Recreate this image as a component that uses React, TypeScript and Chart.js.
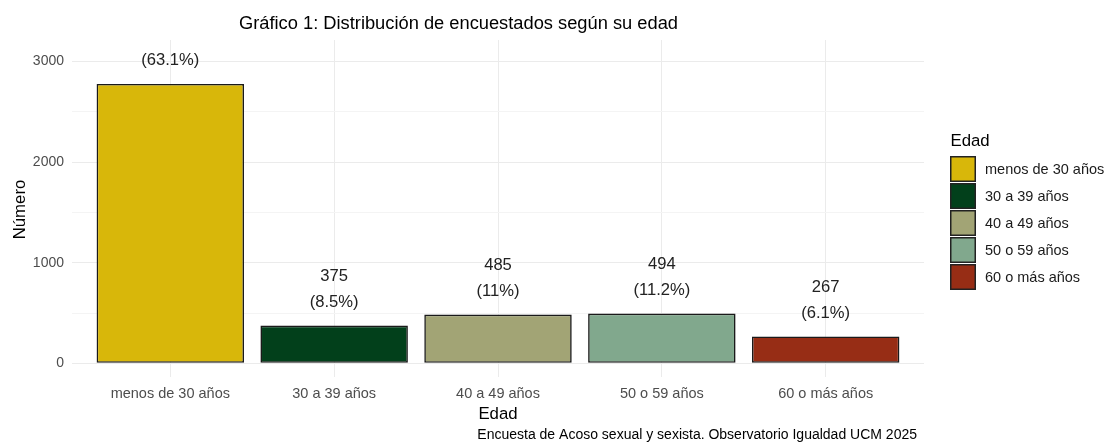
import React, { useEffect, useRef } from "react";
import { Chart, registerables } from "chart.js";

Chart.register(...registerables);

const categories = ["menos de 30 años", "30 a 39 años", "40 a 49 años", "50 o 59 años", "60 o más años"];
const counts = [2777, 375, 485, 494, 267];
const colors = ["#D8B70A", "#02401B", "#A2A475", "#81A88D", "#972D15"];
const yTicks = [0, 500, 1000, 1500, 2000, 2500, 3000];
const titleText = "Gráfico 1: Distribución de encuestados según su edad";
const xTitle = "Edad";
const yTitle = "Número";
const legendTitle = "Edad";
const captionText = "Encuesta de Acoso sexual y sexista. Observatorio Igualdad UCM 2025";

const FONT = "'Liberation Sans', Arial, sans-serif";

function fmtPct(v: number, total: number): string {
  const p = Math.round((v / total) * 1000) / 10;
  return "(" + String(p) + "%)";
}

export default function App() {
  const ref = useRef<HTMLCanvasElement | null>(null);

  useEffect(() => {
    document.body.style.margin = "0";
    const canvas = ref.current;
    if (!canvas) return;
    const total = counts.reduce((a, b) => a + b, 0);

    const decor = {
      id: "decor",
      afterDatasetsDraw(chart: any) {
        const ctx = chart.ctx;
        const area = chart.chartArea;
        const meta = chart.getDatasetMeta(0);
        ctx.save();
        ctx.beginPath();
        ctx.rect(area.left, area.top, area.right - area.left, area.bottom - area.top);
        ctx.clip();
        ctx.fillStyle = "#222";
        ctx.textAlign = "center";
        ctx.textBaseline = "alphabetic";
        ctx.font = "16.6px " + FONT;
        meta.data.forEach((bar: any, i: number) => {
          ctx.fillText(String(counts[i]), bar.x, bar.y - 44.3);
          ctx.fillText(fmtPct(counts[i], total), bar.x, bar.y - 18.8);
        });
        ctx.restore();
      },
      afterDraw(chart: any) {
        const ctx = chart.ctx;
        const area = chart.chartArea;
        ctx.save();
        ctx.textBaseline = "alphabetic";
        ctx.fillStyle = "#000";
        ctx.textAlign = "center";
        ctx.font = "18.3px " + FONT;
        ctx.fillText(titleText, 458.5, 28.5);
        ctx.font = "16.8px " + FONT;
        ctx.fillText(xTitle, (area.left + area.right) / 2, 418.8);
        ctx.save();
        ctx.translate(25, (area.top + area.bottom) / 2 + 1);
        ctx.rotate(-Math.PI / 2);
        ctx.textAlign = "center";
        ctx.fillText(yTitle, 0, 0);
        ctx.restore();
        ctx.textAlign = "right";
        ctx.font = "14px " + FONT;
        ctx.fillText(captionText, 917, 438.5);
        ctx.textAlign = "left";
        ctx.font = "16.8px " + FONT;
        ctx.fillText(legendTitle, 950.5, 146);
        ctx.font = "14.5px " + FONT;
        categories.forEach((c, i) => {
          const y = 156 + 27 * i;
          ctx.fillStyle = colors[i];
          ctx.fillRect(950, y, 26, 26);
          ctx.strokeStyle = "#222";
          ctx.lineWidth = 1.5;
          ctx.strokeRect(950.75, y + 0.75, 24.5, 24.5);
          ctx.fillStyle = "#1a1a1a";
          ctx.textBaseline = "middle";
          ctx.fillText(c, 985, y + 13.5);
        });
        ctx.restore();
      },
    };

    const chart = new Chart(canvas, {
      type: "bar",
      data: {
        datasets: [
          {
            data: counts.map((v, i) => ({ x: i + 1, y: v })),
            backgroundColor: colors,
            borderColor: "#1a1a1a",
            borderWidth: 1.6,
            borderSkipped: false,
            barPercentage: 0.9,
            categoryPercentage: 1,
          },
        ],
      },
      options: {
        animation: false,
        responsive: false,
        maintainAspectRatio: false,
        layout: { padding: { left: 0, top: 40, right: 183, bottom: 0 } },
        plugins: {
          legend: { display: false },
          title: { display: false },
          tooltip: { enabled: false },
        },
        scales: {
          x: {
            type: "linear",
            min: 0.4,
            max: 5.6,
            offset: false,
            afterBuildTicks: (scale: any) => {
              scale.ticks = categories.map((_, i) => ({ value: i + 1 }));
            },
            afterFit: (scale: any) => {
              scale.height = 66;
            },
            border: { display: false },
            grid: { color: "#ebebeb", lineWidth: 1, drawTicks: false, offset: false },
            ticks: {
              padding: 8,
              color: "#4d4d4d",
              font: { family: FONT, size: 14.5 },
              autoSkip: false,
              maxRotation: 0,
              callback: (v: any) => categories[Math.round(Number(v)) - 1] ?? "",
            },
          },
          y: {
            min: -136,
            max: 3214,
            afterBuildTicks: (scale: any) => {
              scale.ticks = yTicks.map((v) => ({ value: v }));
            },
            afterFit: (scale: any) => {
              scale.width = 72;
            },
            border: { display: false },
            grid: {
              color: (c: any) => (c.tick && c.tick.value % 1000 === 0 ? "#ebebeb" : "#f4f4f4"),
              lineWidth: 1,
              drawTicks: false,
            },
            ticks: {
              padding: 8,
              color: "#4d4d4d",
              font: { family: FONT, size: 14 },
              callback: (v: any) => (Number(v) % 1000 === 0 ? String(v) : ""),
            },
          },
        },
      },
      plugins: [decor],
    } as any);

    return () => chart.destroy();
  }, []);

  return (
    <div style={{ width: 1107, height: 443, background: "#fff" }}>
      <canvas ref={ref} width={1107} height={443} />
    </div>
  );
}
